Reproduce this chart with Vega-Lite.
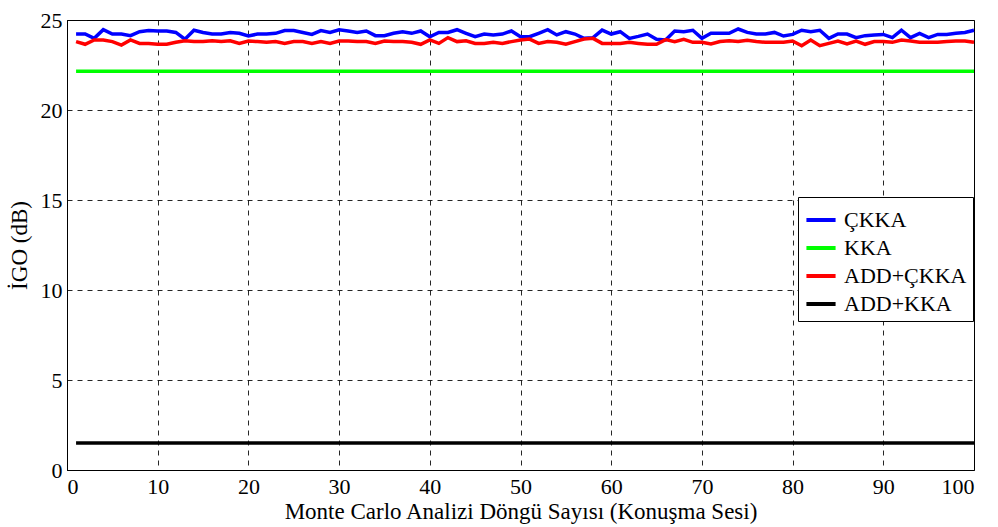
{
  "$schema": "https://vega.github.io/schema/vega-lite/v6.json",
  "autosize": "none",
  "width": 907,
  "height": 450,
  "padding": {"left": 67, "top": 20, "right": 24, "bottom": 57},
  "background": "white",
  "config": {
    "font": "Liberation Serif",
    "view": {"stroke": "black", "strokeWidth": 1},
    "axis": {
      "labelFont": "Liberation Serif", "titleFont": "Liberation Serif",
      "labelFontSize": 22, "titleFontSize": 23, "labelColor": "black", "titleColor": "black",
      "titleFontWeight": "normal", "domainColor": "black", "grid": true, "gridColor": "black",
      "gridDash": [5, 5], "gridOpacity": 0.85, "ticks": false, "labelPadding": 4
    }
  },
  "data": {"values": [
    {"x":1,"ÇKKA":24.22,"ADD+ÇKKA":23.80,"KKA":22.15,"ADD+KKA":1.5},
    {"x":2,"ÇKKA":24.22,"ADD+ÇKKA":23.65,"KKA":22.15,"ADD+KKA":1.5},
    {"x":3,"ÇKKA":23.98,"ADD+ÇKKA":23.89,"KKA":22.15,"ADD+KKA":1.5},
    {"x":4,"ÇKKA":24.46,"ADD+ÇKKA":23.89,"KKA":22.15,"ADD+KKA":1.5},
    {"x":5,"ÇKKA":24.22,"ADD+ÇKKA":23.80,"KKA":22.15,"ADD+KKA":1.5},
    {"x":6,"ÇKKA":24.22,"ADD+ÇKKA":23.61,"KKA":22.15,"ADD+KKA":1.5},
    {"x":7,"ÇKKA":24.13,"ADD+ÇKKA":23.89,"KKA":22.15,"ADD+KKA":1.5},
    {"x":8,"ÇKKA":24.35,"ADD+ÇKKA":23.70,"KKA":22.15,"ADD+KKA":1.5},
    {"x":9,"ÇKKA":24.41,"ADD+ÇKKA":23.70,"KKA":22.15,"ADD+KKA":1.5},
    {"x":10,"ÇKKA":24.39,"ADD+ÇKKA":23.65,"KKA":22.15,"ADD+KKA":1.5},
    {"x":11,"ÇKKA":24.39,"ADD+ÇKKA":23.65,"KKA":22.15,"ADD+KKA":1.5},
    {"x":12,"ÇKKA":24.31,"ADD+ÇKKA":23.76,"KKA":22.15,"ADD+KKA":1.5},
    {"x":13,"ÇKKA":23.93,"ADD+ÇKKA":23.85,"KKA":22.15,"ADD+KKA":1.5},
    {"x":14,"ÇKKA":24.43,"ADD+ÇKKA":23.80,"KKA":22.15,"ADD+KKA":1.5},
    {"x":15,"ÇKKA":24.31,"ADD+ÇKKA":23.80,"KKA":22.15,"ADD+KKA":1.5},
    {"x":16,"ÇKKA":24.22,"ADD+ÇKKA":23.85,"KKA":22.15,"ADD+KKA":1.5},
    {"x":17,"ÇKKA":24.22,"ADD+ÇKKA":23.80,"KKA":22.15,"ADD+KKA":1.5},
    {"x":18,"ÇKKA":24.31,"ADD+ÇKKA":23.85,"KKA":22.15,"ADD+KKA":1.5},
    {"x":19,"ÇKKA":24.26,"ADD+ÇKKA":23.70,"KKA":22.15,"ADD+KKA":1.5},
    {"x":20,"ÇKKA":24.11,"ADD+ÇKKA":23.83,"KKA":22.15,"ADD+KKA":1.5},
    {"x":21,"ÇKKA":24.22,"ADD+ÇKKA":23.80,"KKA":22.15,"ADD+KKA":1.5},
    {"x":22,"ÇKKA":24.22,"ADD+ÇKKA":23.76,"KKA":22.15,"ADD+KKA":1.5},
    {"x":23,"ÇKKA":24.26,"ADD+ÇKKA":23.80,"KKA":22.15,"ADD+KKA":1.5},
    {"x":24,"ÇKKA":24.41,"ADD+ÇKKA":23.70,"KKA":22.15,"ADD+KKA":1.5},
    {"x":25,"ÇKKA":24.41,"ADD+ÇKKA":23.80,"KKA":22.15,"ADD+KKA":1.5},
    {"x":26,"ÇKKA":24.31,"ADD+ÇKKA":23.80,"KKA":22.15,"ADD+KKA":1.5},
    {"x":27,"ÇKKA":24.20,"ADD+ÇKKA":23.70,"KKA":22.15,"ADD+KKA":1.5},
    {"x":28,"ÇKKA":24.41,"ADD+ÇKKA":23.80,"KKA":22.15,"ADD+KKA":1.5},
    {"x":29,"ÇKKA":24.31,"ADD+ÇKKA":23.70,"KKA":22.15,"ADD+KKA":1.5},
    {"x":30,"ÇKKA":24.46,"ADD+ÇKKA":23.83,"KKA":22.15,"ADD+KKA":1.5},
    {"x":31,"ÇKKA":24.39,"ADD+ÇKKA":23.83,"KKA":22.15,"ADD+KKA":1.5},
    {"x":32,"ÇKKA":24.31,"ADD+ÇKKA":23.80,"KKA":22.15,"ADD+KKA":1.5},
    {"x":33,"ÇKKA":24.39,"ADD+ÇKKA":23.80,"KKA":22.15,"ADD+KKA":1.5},
    {"x":34,"ÇKKA":24.13,"ADD+ÇKKA":23.70,"KKA":22.15,"ADD+KKA":1.5},
    {"x":35,"ÇKKA":24.13,"ADD+ÇKKA":23.83,"KKA":22.15,"ADD+KKA":1.5},
    {"x":36,"ÇKKA":24.26,"ADD+ÇKKA":23.80,"KKA":22.15,"ADD+KKA":1.5},
    {"x":37,"ÇKKA":24.35,"ADD+ÇKKA":23.80,"KKA":22.15,"ADD+KKA":1.5},
    {"x":38,"ÇKKA":24.26,"ADD+ÇKKA":23.76,"KKA":22.15,"ADD+KKA":1.5},
    {"x":39,"ÇKKA":24.39,"ADD+ÇKKA":23.65,"KKA":22.15,"ADD+KKA":1.5},
    {"x":40,"ÇKKA":24.07,"ADD+ÇKKA":23.89,"KKA":22.15,"ADD+KKA":1.5},
    {"x":41,"ÇKKA":24.31,"ADD+ÇKKA":23.70,"KKA":22.15,"ADD+KKA":1.5},
    {"x":42,"ÇKKA":24.31,"ADD+ÇKKA":24.02,"KKA":22.15,"ADD+KKA":1.5},
    {"x":43,"ÇKKA":24.46,"ADD+ÇKKA":23.80,"KKA":22.15,"ADD+KKA":1.5},
    {"x":44,"ÇKKA":24.26,"ADD+ÇKKA":23.85,"KKA":22.15,"ADD+KKA":1.5},
    {"x":45,"ÇKKA":24.07,"ADD+ÇKKA":23.70,"KKA":22.15,"ADD+KKA":1.5},
    {"x":46,"ÇKKA":24.22,"ADD+ÇKKA":23.70,"KKA":22.15,"ADD+KKA":1.5},
    {"x":47,"ÇKKA":24.17,"ADD+ÇKKA":23.76,"KKA":22.15,"ADD+KKA":1.5},
    {"x":48,"ÇKKA":24.22,"ADD+ÇKKA":23.70,"KKA":22.15,"ADD+KKA":1.5},
    {"x":49,"ÇKKA":24.39,"ADD+ÇKKA":23.80,"KKA":22.15,"ADD+KKA":1.5},
    {"x":50,"ÇKKA":24.07,"ADD+ÇKKA":23.89,"KKA":22.15,"ADD+KKA":1.5},
    {"x":51,"ÇKKA":24.07,"ADD+ÇKKA":23.94,"KKA":22.15,"ADD+KKA":1.5},
    {"x":52,"ÇKKA":24.26,"ADD+ÇKKA":23.70,"KKA":22.15,"ADD+KKA":1.5},
    {"x":53,"ÇKKA":24.46,"ADD+ÇKKA":23.80,"KKA":22.15,"ADD+KKA":1.5},
    {"x":54,"ÇKKA":24.17,"ADD+ÇKKA":23.76,"KKA":22.15,"ADD+KKA":1.5},
    {"x":55,"ÇKKA":24.35,"ADD+ÇKKA":23.65,"KKA":22.15,"ADD+KKA":1.5},
    {"x":56,"ÇKKA":24.22,"ADD+ÇKKA":23.80,"KKA":22.15,"ADD+KKA":1.5},
    {"x":57,"ÇKKA":23.98,"ADD+ÇKKA":23.94,"KKA":22.15,"ADD+KKA":1.5},
    {"x":58,"ÇKKA":24.02,"ADD+ÇKKA":23.98,"KKA":22.15,"ADD+KKA":1.5},
    {"x":59,"ÇKKA":24.44,"ADD+ÇKKA":23.70,"KKA":22.15,"ADD+KKA":1.5},
    {"x":60,"ÇKKA":24.22,"ADD+ÇKKA":23.70,"KKA":22.15,"ADD+KKA":1.5},
    {"x":61,"ÇKKA":24.35,"ADD+ÇKKA":23.70,"KKA":22.15,"ADD+KKA":1.5},
    {"x":62,"ÇKKA":23.98,"ADD+ÇKKA":23.76,"KKA":22.15,"ADD+KKA":1.5},
    {"x":63,"ÇKKA":24.09,"ADD+ÇKKA":23.70,"KKA":22.15,"ADD+KKA":1.5},
    {"x":64,"ÇKKA":24.22,"ADD+ÇKKA":23.65,"KKA":22.15,"ADD+KKA":1.5},
    {"x":65,"ÇKKA":23.93,"ADD+ÇKKA":23.65,"KKA":22.15,"ADD+KKA":1.5},
    {"x":66,"ÇKKA":23.89,"ADD+ÇKKA":23.91,"KKA":22.15,"ADD+KKA":1.5},
    {"x":67,"ÇKKA":24.39,"ADD+ÇKKA":23.80,"KKA":22.15,"ADD+KKA":1.5},
    {"x":68,"ÇKKA":24.35,"ADD+ÇKKA":23.93,"KKA":22.15,"ADD+KKA":1.5},
    {"x":69,"ÇKKA":24.43,"ADD+ÇKKA":23.76,"KKA":22.15,"ADD+KKA":1.5},
    {"x":70,"ÇKKA":23.98,"ADD+ÇKKA":23.76,"KKA":22.15,"ADD+KKA":1.5},
    {"x":71,"ÇKKA":24.26,"ADD+ÇKKA":23.67,"KKA":22.15,"ADD+KKA":1.5},
    {"x":72,"ÇKKA":24.26,"ADD+ÇKKA":23.80,"KKA":22.15,"ADD+KKA":1.5},
    {"x":73,"ÇKKA":24.26,"ADD+ÇKKA":23.85,"KKA":22.15,"ADD+KKA":1.5},
    {"x":74,"ÇKKA":24.50,"ADD+ÇKKA":23.80,"KKA":22.15,"ADD+KKA":1.5},
    {"x":75,"ÇKKA":24.31,"ADD+ÇKKA":23.87,"KKA":22.15,"ADD+KKA":1.5},
    {"x":76,"ÇKKA":24.22,"ADD+ÇKKA":23.80,"KKA":22.15,"ADD+KKA":1.5},
    {"x":77,"ÇKKA":24.22,"ADD+ÇKKA":23.76,"KKA":22.15,"ADD+KKA":1.5},
    {"x":78,"ÇKKA":24.31,"ADD+ÇKKA":23.76,"KKA":22.15,"ADD+KKA":1.5},
    {"x":79,"ÇKKA":24.11,"ADD+ÇKKA":23.76,"KKA":22.15,"ADD+KKA":1.5},
    {"x":80,"ÇKKA":24.20,"ADD+ÇKKA":23.83,"KKA":22.15,"ADD+KKA":1.5},
    {"x":81,"ÇKKA":24.43,"ADD+ÇKKA":23.57,"KKA":22.15,"ADD+KKA":1.5},
    {"x":82,"ÇKKA":24.35,"ADD+ÇKKA":23.89,"KKA":22.15,"ADD+KKA":1.5},
    {"x":83,"ÇKKA":24.43,"ADD+ÇKKA":23.57,"KKA":22.15,"ADD+KKA":1.5},
    {"x":84,"ÇKKA":23.98,"ADD+ÇKKA":23.70,"KKA":22.15,"ADD+KKA":1.5},
    {"x":85,"ÇKKA":24.22,"ADD+ÇKKA":23.83,"KKA":22.15,"ADD+KKA":1.5},
    {"x":86,"ÇKKA":24.22,"ADD+ÇKKA":23.67,"KKA":22.15,"ADD+KKA":1.5},
    {"x":87,"ÇKKA":24.02,"ADD+ÇKKA":23.83,"KKA":22.15,"ADD+KKA":1.5},
    {"x":88,"ÇKKA":24.13,"ADD+ÇKKA":23.65,"KKA":22.15,"ADD+KKA":1.5},
    {"x":89,"ÇKKA":24.17,"ADD+ÇKKA":23.80,"KKA":22.15,"ADD+KKA":1.5},
    {"x":90,"ÇKKA":24.20,"ADD+ÇKKA":23.80,"KKA":22.15,"ADD+KKA":1.5},
    {"x":91,"ÇKKA":24.02,"ADD+ÇKKA":23.76,"KKA":22.15,"ADD+KKA":1.5},
    {"x":92,"ÇKKA":24.43,"ADD+ÇKKA":23.89,"KKA":22.15,"ADD+KKA":1.5},
    {"x":93,"ÇKKA":24.02,"ADD+ÇKKA":23.83,"KKA":22.15,"ADD+KKA":1.5},
    {"x":94,"ÇKKA":24.26,"ADD+ÇKKA":23.76,"KKA":22.15,"ADD+KKA":1.5},
    {"x":95,"ÇKKA":24.02,"ADD+ÇKKA":23.76,"KKA":22.15,"ADD+KKA":1.5},
    {"x":96,"ÇKKA":24.20,"ADD+ÇKKA":23.76,"KKA":22.15,"ADD+KKA":1.5},
    {"x":97,"ÇKKA":24.20,"ADD+ÇKKA":23.80,"KKA":22.15,"ADD+KKA":1.5},
    {"x":98,"ÇKKA":24.26,"ADD+ÇKKA":23.83,"KKA":22.15,"ADD+KKA":1.5},
    {"x":99,"ÇKKA":24.31,"ADD+ÇKKA":23.83,"KKA":22.15,"ADD+KKA":1.5},
    {"x":100,"ÇKKA":24.43,"ADD+ÇKKA":23.76,"KKA":22.15,"ADD+KKA":1.5}
  ]},
  "transform": [{"fold": ["ÇKKA", "KKA", "ADD+ÇKKA", "ADD+KKA"], "as": ["seri", "deger"]}],
  "mark": {"type": "line", "strokeWidth": 3.5},
  "encoding": {
    "x": {"field": "x", "type": "quantitative", "scale": {"domain": [0, 100], "nice": false},
      "axis": {"values": [0,10,20,30,40,50,60,70,80,90,100], "title": "Monte Carlo Analizi Döngü Sayısı (Konuşma Sesi)",
        "labelFont": "Liberation Serif", "titleFont": "Liberation Serif", "labelPadding": 6, "titlePadding": 3}},
    "y": {"field": "deger", "type": "quantitative", "scale": {"domain": [0, 25], "nice": false},
      "axis": {"values": [0,5,10,15,20,25], "title": "İGO (dB)",
        "labelFont": "Liberation Serif", "titleFont": "Liberation Serif", "labelPadding": 5, "titlePadding": 9}},
    "color": {"field": "seri", "type": "nominal",
      "scale": {"domain": ["ÇKKA", "KKA", "ADD+ÇKKA", "ADD+KKA"], "range": ["#0000ff", "#00ff00", "#ff0000", "#000000"]},
      "legend": {"title": null, "orient": "none", "legendX": 731, "legendY": 177,
        "fillColor": "white", "strokeColor": "black", "padding": 6,
        "symbolType": "stroke", "symbolStrokeWidth": 4, "symbolSize": 850,
        "labelFont": "Liberation Serif", "labelFontSize": 22, "labelColor": "black",
        "rowPadding": 0, "labelOffset": 6}}
  }
}
